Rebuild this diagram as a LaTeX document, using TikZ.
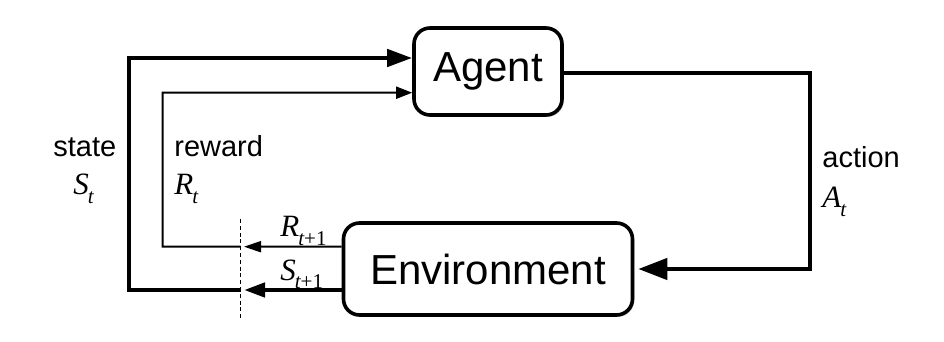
\documentclass[tikz,border=0pt]{standalone}
\usepackage{fontspec}
\setmainfont{Liberation Sans}
\newfontfamily\varfont{Liberation Serif}
\newcommand{\itv}[1]{{\varfont\itshape #1}}
\newcommand{\symb}[2]{\itv{#1}\kern-0.5pt\raisebox{-0.28em}{\fontsize{10.5}{12}\selectfont\varfont #2}}
\usepackage{tikz}
\usetikzlibrary{arrows.meta,shadows}

\begin{document}
\begin{tikzpicture}[
  x=0.5pt, y=-0.5pt,
  block/.style={draw, line width=1.8pt, rounded corners=8pt, fill=white, inner sep=0pt,
    font=\fontsize{21}{24}\selectfont,
    drop shadow={shadow xshift=0.9pt, shadow yshift=-0.9pt, opacity=0.22, fill=black}},
  bigline/.style={line width=2.2pt, line join=miter},
  smallline/.style={line width=1pt, line join=miter},
  lbl/.style={anchor=base west, inner sep=0pt, font=\fontsize{14.5}{17}\selectfont},
  mlbl/.style={anchor=base west, inner sep=0pt, font=\fontsize{15.5}{17}\selectfont}
]
\useasboundingbox (0,0) rectangle (944,342);

% Boxes
\node[block, minimum width=74pt, minimum height=43.5pt] (agent) at (488,71.5) {Agent};
\node[block, minimum width=144.5pt, minimum height=46pt] (env) at (488,269) {Environment};

% Time step cut
\coordinate (cuttop) at (240.7,219);
\coordinate (cutbot) at (240.7,319);
\coordinate (rback) at (240.7,246.7);
\coordinate (sback) at (240.7,290);
\coordinate (rtip) at (244,246.7);
\coordinate (stip) at (244,290);
\draw[line width=0.6pt, dash pattern=on 2pt off 1.4pt] (cuttop) -- (cutbot);

% Environment -> cut
\draw[smallline, -{Triangle[length=8.5pt, width=5.5pt]}] ([yshift=11.15pt]env.west) -- (rtip);
\draw[bigline, -{Triangle[length=10.5pt, width=7pt]}] ([yshift=-10.5pt]env.west) -- (stip);

% Feedback to agent
\draw[bigline, -{Triangle[length=12.5pt, width=8.5pt]}] (sback) -| (129,58) -- ([yshift=6.75pt]agent.west);
\draw[smallline, -{Triangle[length=8pt, width=6pt]}] (rback) -| (162.7,92.7) -- ([yshift=-10.6pt]agent.west);

% Action
\draw[bigline, -{Triangle[length=14.5pt, width=10.5pt]}, shorten >=2pt] ([yshift=-0.75pt]agent.east) -- (810,73) |- (env.east);

% Labels
\node[lbl] (statelbl) at (53,157) {state};
\node[mlbl] (st) at (73,195) {\symb{S}{\itshape t}};
\node[lbl] (rewardlbl) at (174,157) {reward};
\node[mlbl] (rt) at (174,195) {\symb{R}{\itshape t}};
\node[lbl] (actionlbl) at (822,168) {action};
\node[mlbl] (at) at (822,208) {\symb{A}{\itshape t}};
\node[mlbl] (rnext) at (280,237) {\symb{R}{{\itshape t}+1}};
\node[mlbl] (snext) at (280,280) {\symb{S}{{\itshape t}+1}};
\end{tikzpicture}
\end{document}
